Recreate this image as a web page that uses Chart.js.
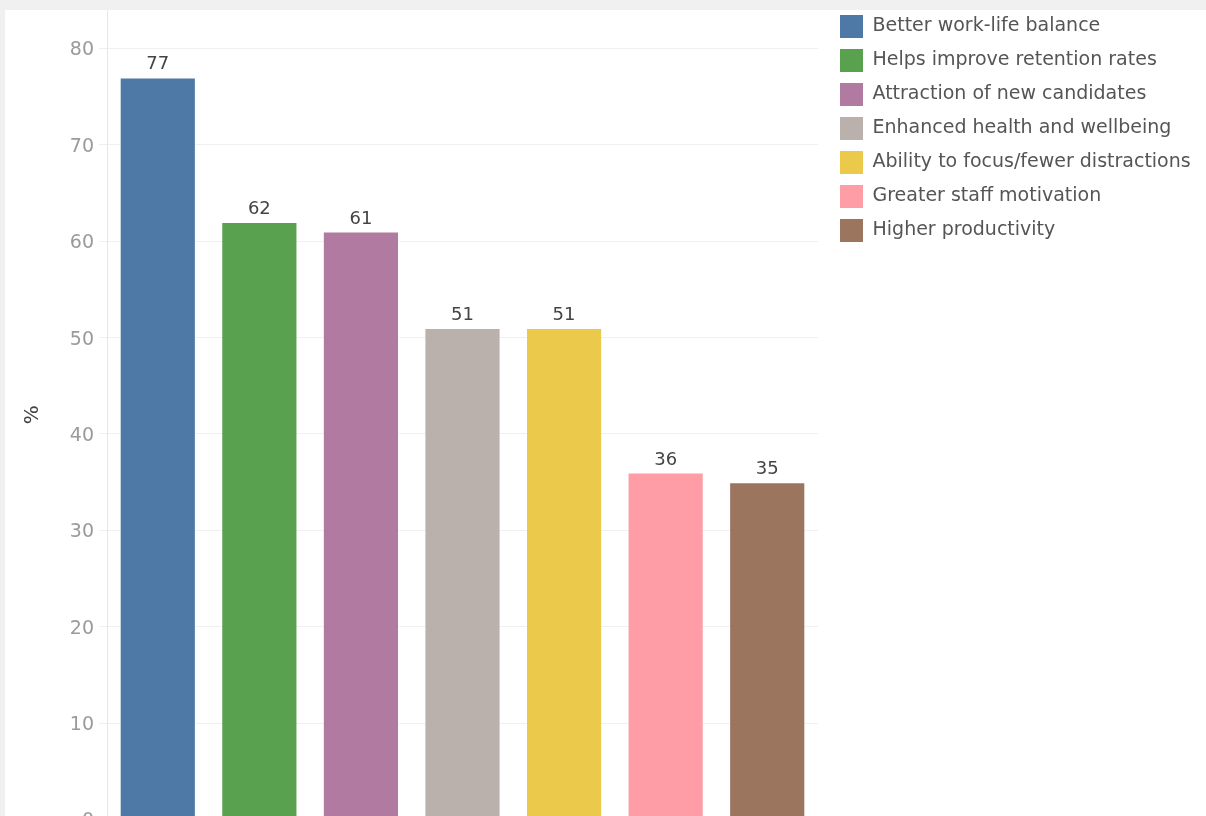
<!DOCTYPE html>
<html>
<head>
<meta charset="utf-8">
<script src="https://cdn.jsdelivr.net/npm/chart.js@4.4.1/dist/chart.umd.min.js"></script>
<style>
  html, body { margin: 0; padding: 0; background: #f0f0f0; overflow: hidden; }
  #panel { position: absolute; left: 5px; top: 10px; width: 1201px; height: 806px; background: #fff; overflow: hidden; }
  #chart { display: block; }
</style>
</head>
<body>
<div id="panel"><canvas id="chart" width="1201" height="830"></canvas></div>
<script>
const categories = [
  "Better work-life balance",
  "Helps improve retention rates",
  "Attraction of new candidates",
  "Enhanced health and wellbeing",
  "Ability to focus/fewer distractions",
  "Greater staff motivation",
  "Higher productivity",
];
const percentages = [77, 62, 61, 51, 51, 36, 35];
const barColors = ["#4e79a7", "#59a14f", "#b07aa1", "#bab0ac", "#ebc94a", "#ff9da7", "#9c755f"];
const yTicks = [0, 10, 20, 30, 40, 50, 60, 70, 80];

const FONT = "'DejaVu Sans', 'Noto Sans', sans-serif";
const LEGEND_WIDTH = 388;

// value labels over each bar
const barValues = {
  id: "barValues",
  afterDatasetsDraw(chart) {
    const { ctx } = chart;
    const meta = chart.getDatasetMeta(0);
    ctx.save();
    ctx.font = `18px ${FONT}`;
    ctx.fillStyle = "#444444";
    ctx.textAlign = "center";
    ctx.textBaseline = "alphabetic";
    meta.data.forEach((bar, i) => {
      ctx.fillText(String(percentages[i]), bar.x, bar.y - 8);
    });
    ctx.restore();
  },
};

// legend box keeps a fixed width and sits a bit higher / further right
const legendPlacer = {
  id: "legendPlacer",
  afterInit(chart) {
    const legend = chart.legend;
    const fit = legend.fit;
    legend.fit = function () {
      fit.call(this);
      this.width = LEGEND_WIDTH;
    };
  },
  afterLayout(chart) {
    const legend = chart.legend;
    legend.top -= 6;
    legend.bottom -= 6;
    legend.left += 11;
    legend.right += 11;
  },
};

const ctx = document.getElementById("chart").getContext("2d");
new Chart(ctx, {
  type: "bar",
  data: {
    labels: categories,
    datasets: [
      {
        data: percentages,
        backgroundColor: barColors,
        borderColor: "rgba(255,255,255,0.35)",
        borderWidth: 1,
        barPercentage: 0.75,
        categoryPercentage: 1.0,
      },
    ],
  },
  options: {
    responsive: false,
    animation: false,
    layout: { padding: { top: 0, left: 0, right: 0, bottom: 20.6 } },
    plugins: {
      tooltip: { enabled: false },
      legend: {
        display: true,
        position: "right",
        align: "start",
        labels: {
          boxWidth: 23,
          boxHeight: 23,
          padding: 11,
          color: "#555555",
          font: { family: FONT, size: 19 },
          generateLabels(chart) {
            const ds = chart.data.datasets[0];
            return chart.data.labels.map((label, i) => ({
              text: label,
              fillStyle: ds.backgroundColor[i],
              strokeStyle: ds.backgroundColor[i],
              lineWidth: 0,
              hidden: false,
              index: i,
              fontColor: "#555555",
            }));
          },
        },
      },
    },
    scales: {
      x: { display: false },
      y: {
        min: 0,
        max: 84,
        afterBuildTicks(scale) {
          scale.ticks = yTicks.map((v) => ({ value: v }));
        },
        afterFit(scale) {
          scale.width = 102;
          scale.paddingTop = 0;
        },
        title: {
          display: true,
          text: "%",
          color: "#444444",
          font: { family: FONT, size: 20 },
          padding: { top: 16, bottom: 0 },
        },
        ticks: {
          color: "#9a9a9a",
          font: { family: FONT, size: 19 },
          padding: 5,
          labelOffset: 2,
        },
        grid: {
          color: "#f0f0f0",
          tickLength: 8,
          tickColor: "#f0f0f0",
        },
        border: { color: "#e6e6e6" },
      },
    },
  },
  plugins: [barValues, legendPlacer],
});
</script>
</body>
</html>
